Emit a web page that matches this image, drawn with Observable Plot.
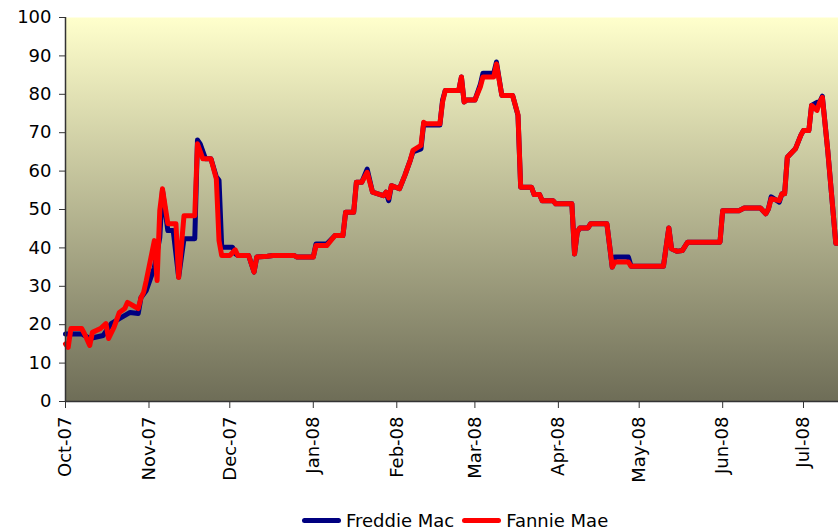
<!DOCTYPE html>
<html>
<head>
<meta charset="utf-8">
<script src="https://cdn.jsdelivr.net/npm/d3@7"></script>
<script src="https://cdn.jsdelivr.net/npm/@observablehq/plot@0.6"></script>
<style>
  html, body { margin: 0; padding: 0; background: #fff; }
  #wrap { position: relative; width: 838px; height: 532px; font-family: "DejaVu Sans", sans-serif; }
  #legend { position: absolute; left: 302px; top: 508px; height: 24px; display: flex; align-items: center; font-size: 18px; color: #000; white-space: nowrap; }
  .sw { display: inline-block; width: 39px; height: 5px; border-radius: 3px; margin-right: 5px; }
  .item { display: flex; align-items: center; margin-right: 8px; }
</style>
</head>
<body>
<div id="wrap"><div id="chart"></div><div id="legend"></div></div>
<script>
const seriesNames = ["Freddie Mac", "Fannie Mae"];
const seriesColors = ["#000080", "#FF0000"];
const yTicks = [0, 10, 20, 30, 40, 50, 60, 70, 80, 90, 100];
const xTickDates = ["2007-10-01","2007-11-01","2007-12-01","2008-01-01","2008-02-01","2008-03-01","2008-04-01","2008-05-01","2008-06-01","2008-07-01"];
const xDomain = ["2007-10-01", "2008-07-14"];

const fannieDates = ["2007-10-01","2007-10-02","2007-10-03","2007-10-07","2007-10-08","2007-10-10","2007-10-11","2007-10-14","2007-10-16","2007-10-17","2007-10-19","2007-10-21","2007-10-23","2007-10-24","2007-10-26","2007-10-28","2007-10-29","2007-10-30","2007-10-31",
"2007-11-03","2007-11-04","2007-11-05","2007-11-06","2007-11-08","2007-11-11","2007-11-12","2007-11-14","2007-11-18","2007-11-19","2007-11-21","2007-11-24","2007-11-26","2007-11-27","2007-11-28",
"2007-12-01","2007-12-03","2007-12-04","2007-12-08","2007-12-10","2007-12-11","2007-12-15","2007-12-17","2007-12-25","2007-12-26",
"2008-01-01","2008-01-02","2008-01-06","2008-01-09","2008-01-12","2008-01-13","2008-01-16","2008-01-17","2008-01-19","2008-01-21","2008-01-23","2008-01-27","2008-01-28","2008-01-29","2008-01-30",
"2008-02-02","2008-02-04","2008-02-06","2008-02-07","2008-02-10","2008-02-11","2008-02-12","2008-02-17","2008-02-18","2008-02-19","2008-02-24","2008-02-25","2008-02-26","2008-02-27",
"2008-03-01","2008-03-03","2008-03-04","2008-03-08","2008-03-09","2008-03-11","2008-03-15","2008-03-17","2008-03-18","2008-03-22","2008-03-23","2008-03-25","2008-03-26","2008-03-30","2008-03-31",
"2008-04-06","2008-04-07","2008-04-08","2008-04-09","2008-04-12","2008-04-13","2008-04-19","2008-04-21","2008-04-22","2008-04-27","2008-04-28",
"2008-05-10","2008-05-12","2008-05-13","2008-05-15","2008-05-17","2008-05-19","2008-05-31",
"2008-06-01","2008-06-07","2008-06-09","2008-06-15","2008-06-17","2008-06-18","2008-06-19","2008-06-22","2008-06-23","2008-06-24","2008-06-25","2008-06-28","2008-06-30",
"2008-07-01","2008-07-03","2008-07-04","2008-07-06","2008-07-07","2008-07-08","2008-07-10","2008-07-13","2008-07-14"];
const fannieValues = [15.0,14.1,19.0,19.0,17.7,14.6,18.0,19.0,20.3,16.4,19.3,23.2,24.2,25.8,25.0,24.2,27.0,28.4,31.5,
41.9,31.5,49.7,55.4,46.3,46.3,32.3,48.4,48.4,67.1,63.2,63.2,58.0,41.9,38.0,
38.0,39.5,38.0,38.0,33.7,37.6,37.8,38.0,38.0,37.6,
37.6,40.6,40.6,43.2,43.2,49.3,49.3,57.1,57.1,59.7,54.5,53.6,54.5,53.0,56.2,
55.4,58.9,62.8,65.4,66.7,72.7,72.3,72.3,78.0,81.0,81.0,84.5,78.0,78.5,
78.5,81.9,84.5,84.5,87.9,79.7,79.7,74.7,55.8,55.8,53.9,53.9,52.3,52.3,51.5,
51.5,38.4,44.1,45.2,45.2,46.3,46.3,35.0,36.3,36.3,35.2,
35.2,45.2,39.8,39.1,39.3,41.5,41.5,
49.7,49.7,50.4,50.4,48.9,50.2,52.8,52.3,54.1,54.1,63.6,65.8,69.3,
70.6,70.6,77.1,75.8,77.9,79.2,65.4,41.2,41.2];

const freddieDates = ["2007-10-01","2007-10-07","2007-10-10","2007-10-15","2007-10-18","2007-10-21","2007-10-25","2007-10-28","2007-10-29","2007-10-31",
"2007-11-03","2007-11-05","2007-11-06","2007-11-08","2007-11-10","2007-11-12","2007-11-14","2007-11-18","2007-11-19","2007-11-20","2007-11-22","2007-11-24","2007-11-26","2007-11-27","2007-11-28",
"2007-12-02","2007-12-03","2007-12-04","2007-12-08","2007-12-10","2007-12-11","2007-12-15","2007-12-17","2007-12-25","2007-12-26",
"2008-01-01","2008-01-02","2008-01-06","2008-01-09","2008-01-12","2008-01-13","2008-01-16","2008-01-17","2008-01-19","2008-01-21","2008-01-23","2008-01-27","2008-01-28","2008-01-29","2008-01-30",
"2008-02-02","2008-02-04","2008-02-06","2008-02-07","2008-02-10","2008-02-11","2008-02-12","2008-02-17","2008-02-18","2008-02-19","2008-02-24","2008-02-25","2008-02-26","2008-02-27",
"2008-03-01","2008-03-03","2008-03-04","2008-03-08","2008-03-09","2008-03-11","2008-03-15","2008-03-17","2008-03-18","2008-03-22","2008-03-23","2008-03-25","2008-03-26","2008-03-30","2008-03-31",
"2008-04-06","2008-04-07","2008-04-08","2008-04-09","2008-04-12","2008-04-13","2008-04-19","2008-04-21","2008-04-22","2008-04-27","2008-04-28",
"2008-05-10","2008-05-12","2008-05-13","2008-05-15","2008-05-17","2008-05-19","2008-05-31",
"2008-06-01","2008-06-07","2008-06-09","2008-06-15","2008-06-17","2008-06-18","2008-06-19","2008-06-22","2008-06-23","2008-06-24","2008-06-25","2008-06-28","2008-06-30",
"2008-07-01","2008-07-03","2008-07-04","2008-07-06","2008-07-07","2008-07-08","2008-07-10","2008-07-13","2008-07-14"];
const freddieValues = [17.6,17.6,16.4,17.2,20.3,21.6,23.2,22.9,27.0,28.9,
34.9,42.7,55.0,44.5,44.5,32.4,42.4,42.4,68.1,67.1,63.2,63.2,58.5,57.6,40.2,
40.2,38.5,38.0,38.0,33.7,37.6,37.8,38.0,38.0,37.6,
37.6,41.0,41.0,43.2,43.2,49.3,49.3,57.1,57.1,60.5,54.5,53.6,54.5,52.3,56.2,
55.4,58.9,62.8,65.0,65.8,72.5,72.0,72.0,78.5,81.0,81.0,84.5,78.0,78.5,
78.5,82.5,85.5,85.5,88.4,79.7,79.7,74.5,55.8,55.8,53.9,53.9,52.3,52.3,51.5,
51.5,38.4,44.1,45.2,45.2,46.3,46.3,35.0,37.6,37.6,35.2,
35.2,45.2,39.8,39.1,39.3,41.5,41.5,
49.7,49.7,50.4,50.4,48.9,50.2,53.3,51.9,54.1,54.1,63.6,65.8,69.3,
70.6,70.6,77.1,77.9,77.9,79.5,65.4,41.2,41.2];

const toRows = (dates, values) => dates.map((d, i) => ({date: new Date(d), value: values[i]}));
const freddie = toRows(freddieDates, freddieValues);
const fannie = toRows(fannieDates, fannieValues);
const fmt = d3.utcFormat("%b-%y");
const axisColor = "#333";

const chart = Plot.plot({
  width: 838,
  height: 504,
  marginLeft: 65,
  marginRight: 0,
  marginTop: 17,
  marginBottom: 103,
  style: {fontFamily: "DejaVu Sans", fontSize: "18px", color: "#000", background: "transparent", overflow: "visible"},
  x: {type: "utc", domain: xDomain.map(d => new Date(d))},
  y: {domain: [0, 100]},
  marks: [
    Plot.frame({fill: "url(#bg)", stroke: "none"}),
    Plot.axisY({ticks: yTicks, tickSize: 6, tickPadding: 8, label: null, stroke: axisColor, fill: "#000"}),
    Plot.axisX({ticks: xTickDates.map(d => new Date(d)), tickFormat: fmt, tickRotate: -90, tickSize: 7, tickPadding: 8, label: null, stroke: axisColor, fill: "#000"}),
    Plot.line(freddie, {x: "date", y: "value", stroke: seriesColors[0], strokeWidth: 5, strokeLinejoin: "round", strokeLinecap: "round"}),
    Plot.line(fannie, {x: "date", y: "value", stroke: seriesColors[1], strokeWidth: 5, strokeLinejoin: "round", strokeLinecap: "round"}),
    Plot.ruleX([new Date(xDomain[0])], {stroke: axisColor, strokeWidth: 1.5}),
    Plot.ruleY([0], {stroke: axisColor, strokeWidth: 1.5})
  ]
});

const ns = "http://www.w3.org/2000/svg";
const defs = document.createElementNS(ns, "defs");
const grad = document.createElementNS(ns, "linearGradient");
grad.setAttribute("id", "bg");
grad.setAttribute("x1", "0"); grad.setAttribute("y1", "0");
grad.setAttribute("x2", "0"); grad.setAttribute("y2", "1");
[["0", "#FFFFCC"], ["1", "#6E6D57"]].forEach(([o, c]) => {
  const s = document.createElementNS(ns, "stop");
  s.setAttribute("offset", o);
  s.setAttribute("stop-color", c);
  grad.appendChild(s);
});
defs.appendChild(grad);
chart.insertBefore(defs, chart.firstChild);
document.getElementById("chart").appendChild(chart);

const legend = document.getElementById("legend");
seriesNames.forEach((name, i) => {
  const item = document.createElement("span");
  item.className = "item";
  const sw = document.createElement("span");
  sw.className = "sw";
  sw.style.background = seriesColors[i];
  item.appendChild(sw);
  item.appendChild(document.createTextNode(name));
  legend.appendChild(item);
});
</script>
</body>
</html>
